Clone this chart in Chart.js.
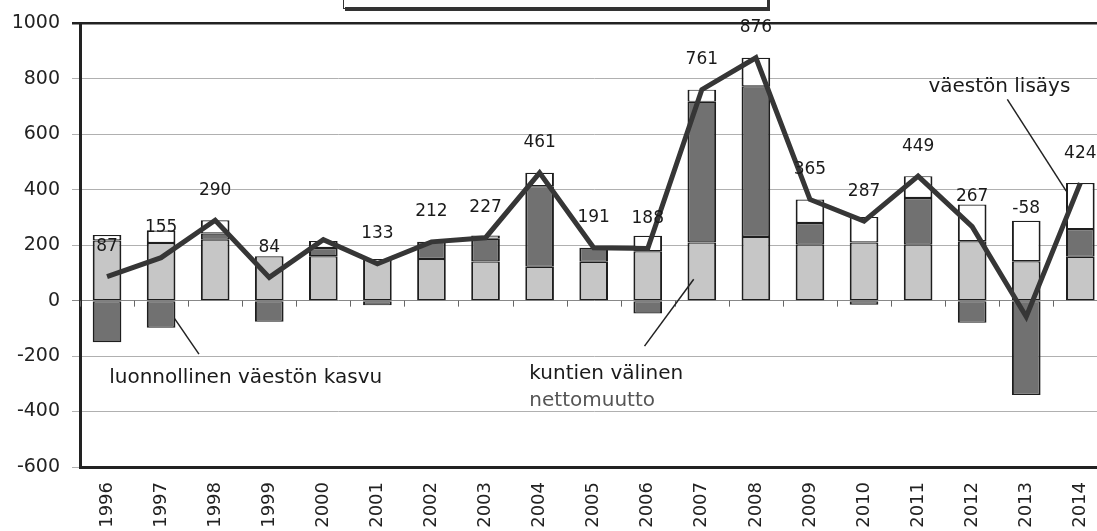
<!DOCTYPE html>
<html>
<head>
<meta charset="utf-8">
<script src="https://cdn.jsdelivr.net/npm/chart.js@4.4.1/dist/chart.umd.min.js"></script>
<style>
  html, body { margin: 0; padding: 0; background: #fff; overflow: hidden; }
  #wrap { width: 1117px; height: 531px; }
</style>
</head>
<body>
<div id="wrap"><canvas id="popChart" width="1117" height="531"></canvas></div>
<script>
// Years on the x axis
const years = ['1996', '1997', '1998', '1999', '2000', '2001', '2002', '2003', '2004', '2005',
               '2006', '2007', '2008', '2009', '2010', '2011', '2012', '2013', '2014'];

// Light grey segment (kuntien välinen nettomuutto)
const kuntienValinen = [217, 208, 220, 160, 160, 150, 150, 141, 122, 140,
                        178, 210, 230, 202, 210, 202, 214, 142, 158];
// Dark grey segment (luonnollinen väestön kasvu)
const luonnollinen = [-150, -98, 22, -76, 30, -17, 62, 82, 291, 51,
                      -46, 507, 543, 78, -15, 168, -80, -340, 100];
// White top segment
const muuMuutto = [20, 45, 48, null, 25, null, null, 12, 48, null,
                   56, 44, 103, 85, 92, 79, 133, 146, 166];
// Total population increase (line) and its printed labels
const vaestonLisays = [87, 155, 290, 84, 220, 133, 212, 227, 461, 191,
                       188, 761, 876, 365, 287, 449, 267, -58, 424];
const lisaysLabels = ['87', '155', '290', '84', '', '133', '212', '227', '461', '191',
                      '188', '761', '876', '365', '287', '449', '267', '-58', '424'];

const yTicks = [-600, -400, -200, 0, 200, 400, 600, 800, 1000];

const FONT = 'DejaVu Sans';

document.addEventListener('DOMContentLoaded', () => {
    // Draws the zero line ticks, the value labels, the callout texts and the cut legend box
    const extrasPlugin = {
        id: 'extras',
        beforeDatasetsDraw(chart) {
            const {ctx, scales: {x, y}} = chart;
            const y0 = y.getPixelForValue(0);
            ctx.save();
            ctx.strokeStyle = '#666';
            ctx.lineWidth = 1;
            for (let i = 0; i <= years.length; i++) {
                const px = Math.round(x.getPixelForValue(i - 0.5)) + 0.5;
                ctx.beginPath();
                ctx.moveTo(px, y0);
                ctx.lineTo(px, y0 + 6);
                ctx.stroke();
            }
            ctx.restore();
        },
        afterDatasetsDraw(chart) {
            const {ctx, scales: {x, y}} = chart;
            ctx.save();
            ctx.font = '17px "' + FONT + '"';
            ctx.fillStyle = '#1a1a1a';
            ctx.textAlign = 'center';
            ctx.textBaseline = 'middle';
            vaestonLisays.forEach((v, i) => {
                if (!lisaysLabels[i]) return;
                const px = x.getPixelForValue(i);
                let py;
                if (v >= 0) {
                    py = y.getPixelForValue(v) - 30;
                } else {
                    const top = (kuntienValinen[i] || 0) + (muuMuutto[i] || 0);
                    py = y.getPixelForValue(top) - 12;
                }
                ctx.fillText(lisaysLabels[i], px, py);
            });

            // callout texts
            ctx.font = '20px "' + FONT + '"';
            ctx.textAlign = 'left';
            ctx.fillStyle = '#1a1a1a';
            ctx.fillText('luonnollinen väestön kasvu', x.getPixelForValue(0.04), y.getPixelForValue(-280));
            ctx.fillText('kuntien välinen', x.getPixelForValue(7.81), y.getPixelForValue(-265));
            ctx.fillStyle = '#555';
            ctx.fillText('nettomuutto', x.getPixelForValue(7.81), y.getPixelForValue(-362));
            ctx.fillStyle = '#1a1a1a';
            ctx.fillText('väestön lisäys', x.getPixelForValue(15.19), y.getPixelForValue(773));

            ctx.strokeStyle = '#222';
            ctx.lineWidth = 1.5;
            const seg = (i1, v1, i2, v2) => {
                ctx.beginPath();
                ctx.moveTo(x.getPixelForValue(i1), y.getPixelForValue(v1));
                ctx.lineTo(x.getPixelForValue(i2), y.getPixelForValue(v2));
                ctx.stroke();
            };
            seg(1.25, -65, 1.7, -193);
            seg(10.85, 77, 9.94, -164);
            seg(16.65, 726, 17.74, 395);

            // partially visible legend box at the top
            ctx.strokeStyle = '#333';
            ctx.lineWidth = 1;
            ctx.strokeRect(343.5, -4.5, 425, 13);
            ctx.fillStyle = '#333';
            ctx.fillRect(345, 7, 425, 4);
            ctx.fillRect(767, -2, 3, 12);
            ctx.restore();
        }
    };

    const barBase = {
        type: 'bar',
        stack: 'parts',
        borderColor: '#1e1e1e',
        borderWidth: { left: 2, right: 2, top: 1.2, bottom: 1.2 },
        borderSkipped: false,
        categoryPercentage: 1,
        barPercentage: 0.53,
        order: 1
    };

    const ctx = document.getElementById('popChart').getContext('2d');
    new Chart(ctx, {
        data: {
            labels: years,
            datasets: [
                {
                    type: 'line',
                    label: 'väestön lisäys',
                    data: vaestonLisays,
                    stack: 'total',
                    borderColor: '#363636',
                    borderWidth: 5,
                    pointRadius: 0,
                    tension: 0,
                    order: 0
                },
                Object.assign({}, barBase, {
                    label: 'kuntien välinen nettomuutto',
                    data: kuntienValinen,
                    backgroundColor: '#c6c6c6'
                }),
                Object.assign({}, barBase, {
                    label: 'luonnollinen väestön kasvu',
                    data: luonnollinen,
                    backgroundColor: '#717171'
                }),
                Object.assign({}, barBase, {
                    label: 'muu muutto',
                    data: muuMuutto,
                    backgroundColor: '#ffffff'
                })
            ]
        },
        options: {
            responsive: false,
            animation: false,
            layout: { padding: { top: 22, right: 3, left: 0, bottom: 0 } },
            plugins: {
                legend: { display: false },
                tooltip: { enabled: false }
            },
            scales: {
                x: {
                    stacked: true,
                    offset: true,
                    grid: { drawOnChartArea: false, drawTicks: false },
                    border: { display: true, color: '#222', width: 3 },
                    ticks: {
                        minRotation: 90,
                        maxRotation: 90,
                        padding: 15,
                        color: '#222',
                        font: { family: FONT, size: 18 }
                    },
                    afterFit: s => { s.height = 64; }
                },
                y: {
                    stacked: true,
                    min: yTicks[0],
                    max: yTicks[yTicks.length - 1],
                    afterBuildTicks: s => { s.ticks = yTicks.map(v => ({ value: v })); },
                    grid: {
                        color: c => c.tick.value === 1000 ? '#222' : (c.tick.value === 0 ? '#888' : '#b0b0b0'),
                        lineWidth: c => c.tick.value === 1000 ? 2.5 : 1,
                        tickLength: 8
                    },
                    border: { display: true, color: '#222', width: 3 },
                    ticks: {
                        padding: 12,
                        color: '#222',
                        font: { family: FONT, size: 19 },
                        callback: v => String(v)
                    },
                    afterFit: s => { s.width = 80; }
                }
            }
        },
        plugins: [extrasPlugin]
    });
});
</script>
</body>
</html>
